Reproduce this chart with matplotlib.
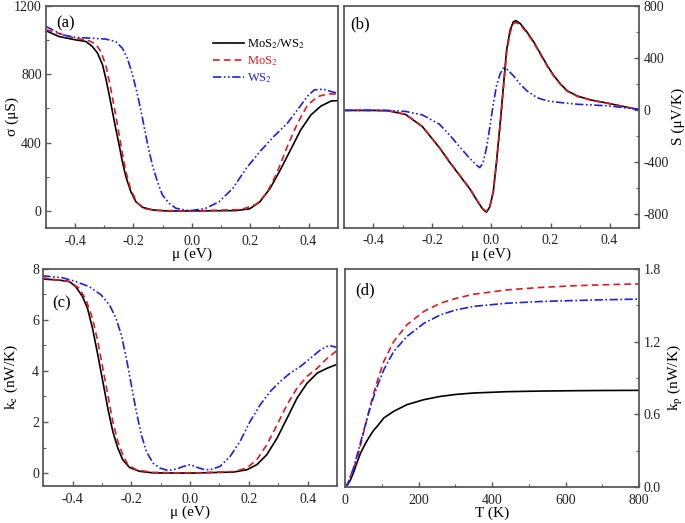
import numpy as np
import matplotlib
matplotlib.use("Agg")
import matplotlib.pyplot as plt
from matplotlib.ticker import MultipleLocator

plt.rcParams['font.family'] = ['Liberation Serif', 'DejaVu Serif']
plt.rcParams['mathtext.fontset'] = 'stix'
plt.rcParams['axes.unicode_minus'] = False

# ---- (a) conductance sigma (uS) vs mu (eV)
mu_a_bl = [-0.5, -0.455, -0.4, -0.363, -0.341, -0.323, -0.306, -0.295, -0.283, -0.272, -0.261, -0.249, -0.238,
           -0.226, -0.209, -0.192, -0.169, -0.135, -0.089, 0.0, 0.15, 0.198, 0.233, 0.268, 0.303, 0.338, 0.373,
           0.408, 0.443, 0.478, 0.5]
sig_bl = [1054, 1020, 1001, 991, 962, 923, 855, 777, 679, 581, 484, 386, 289,
          201, 113, 55, 21, 6, 0, 0, 2, 12, 53, 131, 239, 356, 473,
          561, 614, 643, 645]
mu_a_re = [-0.5, -0.4, -0.352, -0.329, -0.312, -0.295, -0.278, -0.261, -0.243, -0.226, -0.209, -0.186, -0.158,
           -0.12, 0.0, 0.17, 0.221, 0.256, 0.291, 0.327, 0.362, 0.397, 0.432, 0.467, 0.5]
sig_re = [1060, 1011, 995, 975, 933, 855, 718, 562, 386, 230, 123, 45, 12,
          3, 0, 8, 39, 102, 219, 376, 512, 620, 669, 685, 683]
mu_a_bu = [-0.5, -0.443, -0.4, -0.352, -0.295, -0.261, -0.238, -0.221, -0.203, -0.186, -0.169, -0.158, -0.146,
           -0.135, -0.118, -0.101, -0.078, -0.055, -0.021, 0.0, 0.046, 0.093, 0.14, 0.186, 0.233, 0.28, 0.327,
           0.362, 0.397, 0.42, 0.45, 0.478, 0.5]
sig_bu = [1079, 1030, 1015, 1011, 1005, 991, 952, 894, 796, 679, 542, 445, 347,
          269, 172, 94, 45, 16, 4, 3, 14, 53, 131, 248, 346, 434, 512,
          591, 672, 708, 712, 698, 688]

# ---- (b) Seebeck S (uV/K) vs mu (eV)
mu_b_bl = [-0.5, -0.4, -0.35, -0.291, -0.234, -0.177, -0.143, -0.109, -0.074, -0.046, -0.029, -0.017, -0.006,
           0.006, 0.017, 0.029, 0.04, 0.051, 0.063, 0.074, 0.083, 0.097, 0.12, 0.143, 0.166, 0.189, 0.211,
           0.234, 0.257, 0.291, 0.337, 0.394, 0.451, 0.5]
s_bl = [0, 0, -3, -31, -125, -285, -394, -497, -601, -704, -761, -782, -743,
        -627, -394, -109, 176, 461, 616, 681, 689, 668, 603, 526, 435, 344, 267,
        202, 150, 110, 80, 55, 28, 5]
mu_b_re = [-0.5, -0.4, -0.35, -0.291, -0.234, -0.177, -0.143, -0.109, -0.074, -0.046, -0.029, -0.017, -0.005,
           0.007, 0.018, 0.03, 0.041, 0.052, 0.064, 0.075, 0.084, 0.098, 0.12, 0.143, 0.166, 0.189, 0.211,
           0.234, 0.257, 0.291, 0.337, 0.394, 0.451, 0.5]
s_re = [0, 0, -3, -30, -123, -282, -390, -493, -597, -700, -758, -775, -735,
        -615, -385, -100, 180, 455, 605, 668, 675, 656, 595, 520, 428, 338, 262,
        198, 146, 107, 78, 54, 27, 5]
mu_b_bu = [-0.5, -0.4, -0.35, -0.291, -0.234, -0.177, -0.143, -0.109, -0.074, -0.051, -0.04, -0.029, -0.017,
           -0.006, 0.006, 0.017, 0.029, 0.04, 0.051, 0.074, 0.097, 0.12, 0.154, 0.189, 0.234, 0.291, 0.394, 0.5]
s_bu = [0, 0, 0, -8, -35, -105, -186, -277, -368, -420, -440, -407, -290,
        -135, 47, 189, 280, 324, 319, 267, 202, 150, 98, 73, 60, 47, 35, 8]

# ---- (c) electronic thermal conductance ke (nW/K) vs mu (eV)
mu_c_bl = [-0.503, -0.446, -0.411, -0.389, -0.366, -0.349, -0.332, -0.314, -0.297, -0.28, -0.263, -0.246, -0.229,
           -0.206, -0.172, -0.126, 0.0, 0.147, 0.193, 0.227, 0.261, 0.296, 0.33, 0.364, 0.398, 0.433, 0.467, 0.5]
ke_bl = [7.6, 7.56, 7.5, 7.3, 6.91, 6.45, 5.67, 4.63, 3.59, 2.54, 1.63, 0.98, 0.52,
         0.22, 0.07, 0.01, 0.0, 0.04, 0.13, 0.33, 0.72, 1.37, 2.15, 2.94, 3.52, 3.92, 4.11, 4.26]
mu_c_re = [-0.503, -0.411, -0.377, -0.354, -0.332, -0.314, -0.297, -0.28, -0.263, -0.246, -0.229, -0.212, -0.183,
           -0.13, 0.0, 0.15, 0.193, 0.227, 0.261, 0.296, 0.33, 0.364, 0.398, 0.433, 0.467, 0.5]
ke_re = [7.65, 7.5, 7.24, 6.78, 6.06, 5.15, 4.11, 3.06, 2.02, 1.24, 0.72, 0.33, 0.13,
         0.03, 0.0, 0.06, 0.2, 0.52, 1.11, 1.89, 2.68, 3.33, 3.79, 4.11, 4.5, 4.8]
mu_c_bu = [-0.503, -0.434, -0.389, -0.343, -0.303, -0.274, -0.252, -0.234, -0.217, -0.2, -0.183, -0.166, -0.149,
           -0.126, -0.103, -0.075, -0.046, -0.023, 0.0, 0.022, 0.045, 0.067, 0.102, 0.136, 0.17, 0.204, 0.239,
           0.273, 0.307, 0.341, 0.376, 0.41, 0.444, 0.473, 0.5]
ke_bu = [7.73, 7.65, 7.5, 7.3, 6.98, 6.58, 6.06, 5.41, 4.5, 3.46, 2.41, 1.5, 0.85,
         0.39, 0.2, 0.1, 0.16, 0.26, 0.33, 0.23, 0.15, 0.13, 0.26, 0.65, 1.24, 2.02, 2.68,
         3.2, 3.59, 3.92, 4.18, 4.5, 4.83, 5.0, 4.92]

# ---- (d) phonon thermal conductance kp (nW/K) vs T (K)
t_d = [0, 7, 14.5, 24, 33, 42, 51, 60, 69, 78, 87, 105, 132, 168, 214, 259, 300, 349, 440, 530, 621, 710, 800]
kp_bl = [0, 0.02, 0.06, 0.13, 0.21, 0.28, 0.335, 0.385, 0.43, 0.47, 0.5, 0.569, 0.624, 0.679, 0.72, 0.747,
         0.763, 0.775, 0.786, 0.791, 0.794, 0.796, 0.797]
kp_re = [0, 0.025, 0.088, 0.16, 0.24, 0.35, 0.46, 0.57, 0.68, 0.78, 0.87, 1.036, 1.2, 1.338, 1.448, 1.516,
         1.555, 1.59, 1.626, 1.646, 1.66, 1.669, 1.676]
kp_bu = [0, 0.025, 0.088, 0.17, 0.27, 0.37, 0.47, 0.57, 0.665, 0.75, 0.83, 0.967, 1.118, 1.242, 1.35, 1.42,
         1.46, 1.49, 1.516, 1.53, 1.538, 1.545, 1.55]

labels = [r'MoS$_2$/WS$_2$', r'MoS$_2$', r'WS$_2$']
c_bl, c_re, c_bu = 'black', '#e31a1c', '#1f1fe8'
dash = (0, (4, 2.5))
ddot = (0, (5, 1.5, 1, 1.5, 1, 1.5))
lw = 1.2

fig = plt.figure(figsize=(6.85, 5.23), dpi=100)
ax_a = fig.add_axes([0.067, 0.564, 0.426, 0.425])
ax_b = fig.add_axes([0.502, 0.565, 0.431, 0.423])
ax_c = fig.add_axes([0.063, 0.071, 0.429, 0.415])
ax_d = fig.add_axes([0.504, 0.069, 0.429, 0.417])

ax_a.plot(mu_a_bl, sig_bl, color=c_bl, lw=lw, label=labels[0])
ax_a.plot(mu_a_re, sig_re, color=c_re, lw=lw, ls=dash, label=labels[1])
ax_a.plot(mu_a_bu, sig_bu, color=c_bu, lw=lw, ls=ddot, label=labels[2])
ax_a.set_xlim(-0.5, 0.5)
ax_a.set_ylim(-100, 1200)
ax_a.yaxis.set_major_locator(MultipleLocator(400))
ax_a.yaxis.set_minor_locator(MultipleLocator(200))
ax_a.set_ylabel('σ (μS)', fontsize=11)
ax_a.yaxis.set_label_coords(-0.092, 0.5)
leg = ax_a.legend(loc='upper left', bbox_to_anchor=(0.555, 0.88), frameon=False, fontsize=9,
                  handlelength=2.5, handletextpad=0.25, labelspacing=0.25, borderaxespad=0)
for txt, col in zip(leg.get_texts(), [c_bl, c_re, c_bu]):
    txt.set_color(col)

ax_b.plot(mu_b_bl, s_bl, color=c_bl, lw=lw)
ax_b.plot(mu_b_re, s_re, color=c_re, lw=lw, ls=dash)
ax_b.plot(mu_b_bu, s_bu, color=c_bu, lw=lw, ls=ddot)
ax_b.set_xlim(-0.5, 0.5)
ax_b.set_ylim(-900, 800)
ax_b.yaxis.set_major_locator(MultipleLocator(400))
ax_b.yaxis.set_minor_locator(MultipleLocator(200))
ax_b.yaxis.tick_right()
ax_b.yaxis.set_label_position('right')
ax_b.set_ylabel('S (μV/K)', fontsize=11, labelpad=2)

ax_c.plot(mu_c_bl, ke_bl, color=c_bl, lw=lw)
ax_c.plot(mu_c_re, ke_re, color=c_re, lw=lw, ls=dash)
ax_c.plot(mu_c_bu, ke_bu, color=c_bu, lw=lw, ls=ddot)
ax_c.set_xlim(-0.5, 0.5)
ax_c.set_ylim(-0.5, 8)
ax_c.yaxis.set_major_locator(MultipleLocator(2))
ax_c.yaxis.set_minor_locator(MultipleLocator(1))
ax_c.set_ylabel(r'k$_{\mathrm{e}}$ (nW/K)', fontsize=11)
ax_c.yaxis.set_label_coords(-0.08, 0.5)

ax_d.plot(t_d, kp_bl, color=c_bl, lw=lw)
ax_d.plot(t_d, kp_re, color=c_re, lw=lw, ls=dash)
ax_d.plot(t_d, kp_bu, color=c_bu, lw=lw, ls=(0, (5, 1.5, 1, 1.5)))
ax_d.set_xlim(0, 800)
ax_d.set_ylim(0, 1.8)
ax_d.xaxis.set_major_locator(MultipleLocator(200))
ax_d.xaxis.set_minor_locator(MultipleLocator(100))
ax_d.yaxis.set_major_locator(MultipleLocator(0.6))
ax_d.yaxis.set_minor_locator(MultipleLocator(0.3))
ax_d.yaxis.tick_right()
ax_d.yaxis.set_label_position('right')
ax_d.set_ylabel(r'k$_{\mathrm{p}}$ (nW/K)', fontsize=11, labelpad=4)
ax_d.set_xlabel('T (K)', fontsize=11, labelpad=0)

for ax in (ax_a, ax_b, ax_c):
    ax.xaxis.set_major_locator(MultipleLocator(0.2))
    ax.xaxis.set_minor_locator(MultipleLocator(0.1))
    ax.set_xlabel('μ (eV)', fontsize=11, labelpad=0)

for ax, tag, pos in zip((ax_a, ax_b, ax_c, ax_d), ['(a)', '(b)', '(c)', '(d)'],
                        [(0.035, 0.92), (0.02, 0.92), (0.03, 0.84), (0.035, 0.9)]):
    for sp in ax.spines.values():
        sp.set_color('#5a5a5a')
        sp.set_linewidth(1.3)
    ax.tick_params(which='both', direction='in', colors='#5a5a5a', labelcolor='#222222', labelsize=10, pad=3)
    ax.tick_params(axis='x', which='both', pad=5)
    ax.tick_params(which='major', length=3.5, width=1)
    ax.tick_params(which='minor', length=2, width=0.8)
    ax.text(pos[0], pos[1], tag, transform=ax.transAxes, fontsize=12, va='center', ha='left')

fig.savefig('out.png', dpi=100)
